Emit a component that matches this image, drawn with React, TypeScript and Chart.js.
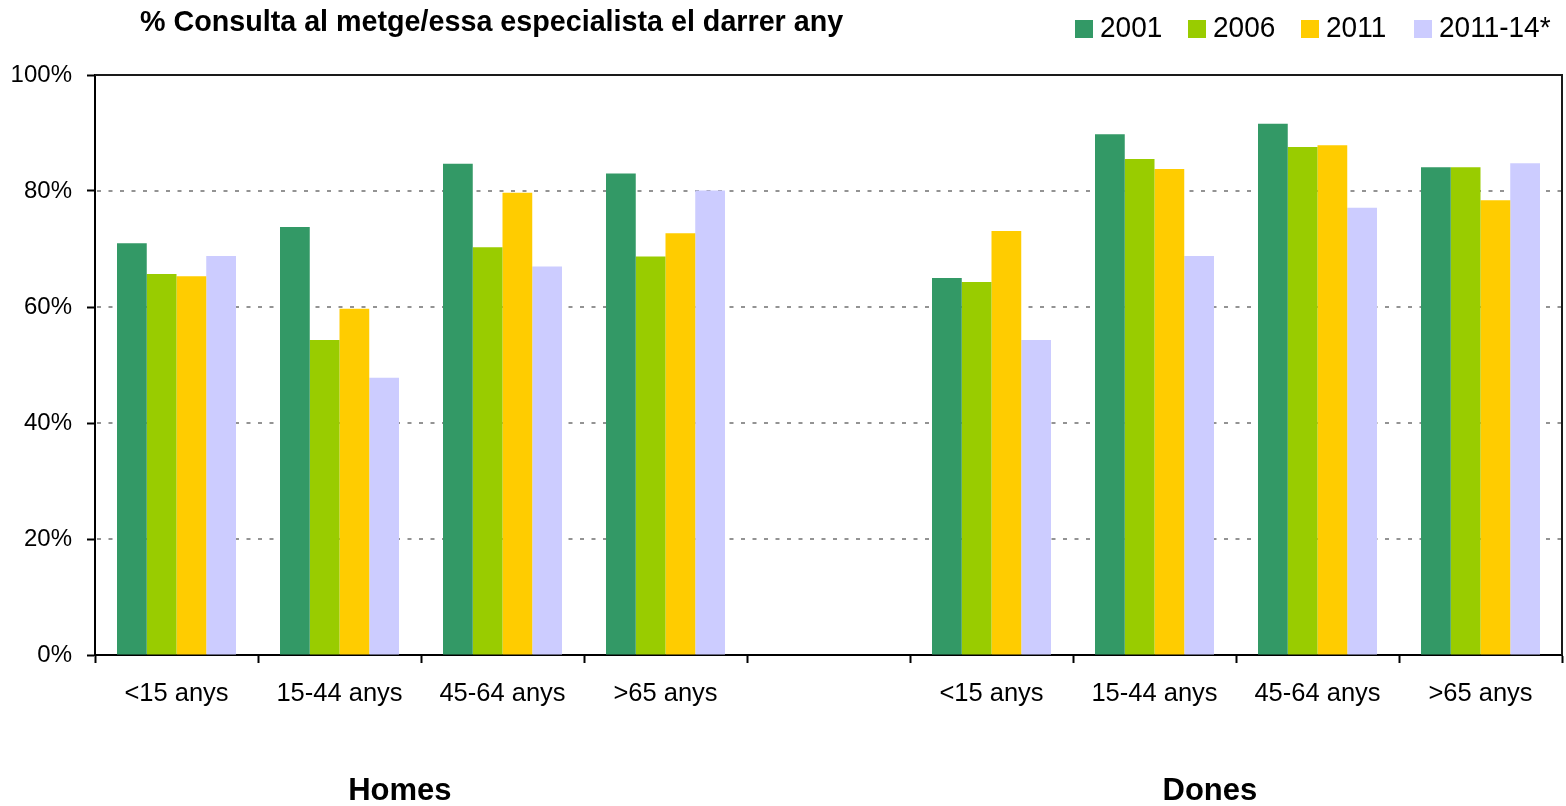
import React, { useEffect, useRef } from "react";
import { Chart, registerables } from "chart.js";

Chart.register(...registerables);

const chartTitle = "% Consulta al metge/essa especialista el darrer any";
const categories = ["<15 anys", "15-44 anys", "45-64 anys", ">65 anys", "", "<15 anys", "15-44 anys", "45-64 anys", ">65 anys"];
const groupLabels = ["Homes", "Dones"];
const seriesNames = ["2001", "2006", "2011", "2011-14*"];
const seriesColors = ["#339966", "#99CC00", "#FFCC00", "#CCCCFF"];
const v2001 = [71.0, 73.8, 84.7, 83.0, null, 65.0, 89.8, 91.6, 84.1];
const v2006 = [65.7, 54.3, 70.3, 68.7, null, 64.3, 85.5, 87.6, 84.1];
const v2011 = [65.3, 59.7, 79.7, 72.7, null, 73.1, 83.8, 87.9, 78.4];
const v201114 = [68.8, 47.8, 67.0, 80.1, null, 54.3, 68.8, 77.1, 84.8];
const yTicks = [0, 20, 40, 60, 80, 100];

const FONT = "'Liberation Sans', Arial, sans-serif";

const decorPlugin = {
  id: "decor",
  beforeDatasetsDraw(chart: any) {
    const { ctx, chartArea, scales } = chart;
    const y = scales.y;
    ctx.save();
    ctx.lineWidth = 2;
    ctx.strokeStyle = "#939393";
    ctx.setLineDash([4, 7.5]);
    for (const v of yTicks) {
      if (v === 0 || v === 100) continue;
      const py = Math.round(y.getPixelForValue(v));
      ctx.beginPath();
      ctx.moveTo(chartArea.left + 2, py);
      ctx.lineTo(chartArea.right, py);
      ctx.stroke();
    }
    ctx.setLineDash([]);
    ctx.strokeStyle = "#1a1a1a";
    const top = y.getPixelForValue(100);
    ctx.beginPath();
    ctx.moveTo(chartArea.left, top);
    ctx.lineTo(chartArea.right, top);
    ctx.lineTo(chartArea.right, chartArea.bottom);
    ctx.stroke();
    ctx.restore();
  },
  afterDraw(chart: any) {
    const { ctx, scales } = chart;
    const x = scales.x;
    ctx.save();
    ctx.fillStyle = "#000";
    ctx.textBaseline = "middle";
    // title
    ctx.font = `bold 28.7px ${FONT}`;
    ctx.textAlign = "left";
    ctx.save();
    ctx.translate(140, 23);
    ctx.scale(1, 1.06);
    ctx.fillText(chartTitle, 0, 0);
    ctx.restore();
    // legend
    ctx.font = `28px ${FONT}`;
    let lx = 1075;
    seriesNames.forEach((name, i) => {
      ctx.fillStyle = seriesColors[i];
      ctx.fillRect(lx, 20, 18, 18);
      ctx.fillStyle = "#000";
      ctx.save();
      ctx.translate(lx + 25, 29);
      ctx.scale(1, 1.06);
      ctx.fillText(name, 0, 0);
      ctx.restore();
      lx += 113;
    });
    // group labels
    ctx.font = `bold 31px ${FONT}`;
    ctx.textAlign = "center";
    ctx.fillText(groupLabels[0], x.getPixelForValue(1.37), 791);
    ctx.fillText(groupLabels[1], x.getPixelForValue(6.34), 791);
    ctx.restore();
  },
};

export default function App() {
  const ref = useRef<HTMLCanvasElement | null>(null);
  useEffect(() => {
    document.body.style.margin = "0";
    const datasets = [v2001, v2006, v2011, v201114].map((d, i) => ({
      label: seriesNames[i],
      data: d,
      backgroundColor: seriesColors[i],
      borderWidth: 0,
      categoryPercentage: 0.73,
      barPercentage: 1.0,
    }));
    const chart = new Chart(ref.current as HTMLCanvasElement, {
      type: "bar",
      data: { labels: categories, datasets },
      options: {
        animation: false,
        responsive: false,
        maintainAspectRatio: false,
        layout: { padding: { top: 75, right: 4, left: 0, bottom: 0 } },
        plugins: { legend: { display: false }, title: { display: false }, tooltip: { enabled: false } },
        scales: {
          x: {
            offset: true,
            grid: { offset: true, drawOnChartArea: false, drawTicks: true, tickLength: 8, tickColor: "#000", tickWidth: 2 },
            border: { display: true, color: "#000", width: 2 },
            ticks: { color: "#000", font: { family: FONT, size: 25.5 }, padding: 16, maxRotation: 0, autoSkip: false },
            afterFit: (s: any) => { s.height = 151; },
          },
          y: {
            min: 0,
            max: 100,
            afterBuildTicks: (s: any) => { s.ticks = yTicks.map((v) => ({ value: v })); },
            grid: { drawOnChartArea: false, drawTicks: true, tickLength: 8, tickColor: "#000", tickWidth: 2 },
            border: { display: true, color: "#000", width: 2 },
            ticks: { color: "#000", font: { family: FONT, size: 24 }, padding: 15, callback: (v: any) => `${v}%` },
            afterFit: (s: any) => { s.width = 95; },
          },
        },
      },
      plugins: [decorPlugin],
    });
    return () => chart.destroy();
  }, []);
  return (
    <div style={{ width: 1566, height: 806 }}>
      <canvas ref={ref} width={1566} height={806} style={{ display: "block" }} />
    </div>
  );
}
